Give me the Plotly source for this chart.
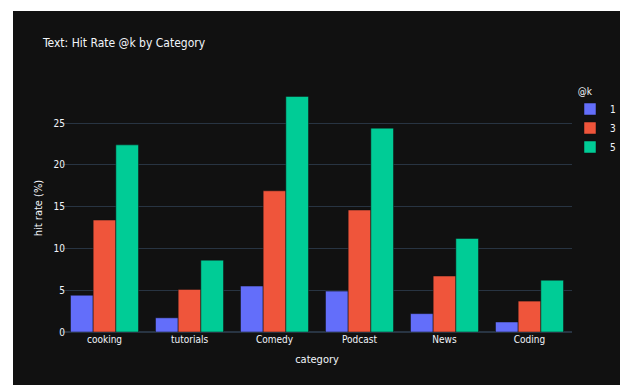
import plotly.graph_objects as go

categories = ["cooking", "tutorials", "Comedy", "Podcast", "News", "Coding"]
k_labels = ["1", "3", "5"]
hit_at_1 = [4.4, 1.7, 5.5, 4.9, 2.2, 1.2]
hit_at_3 = [13.4, 5.1, 16.9, 14.6, 6.7, 3.7]
hit_at_5 = [22.4, 8.6, 28.2, 24.4, 11.2, 6.2]
series = [hit_at_1, hit_at_3, hit_at_5]
colors = ["#636efa", "#EF553B", "#00cc96"]

FONT = "Liberation Sans Narrow, DejaVu Sans Condensed, Open Sans, sans-serif"

fig = go.Figure()
for lab, vals, c in zip(k_labels, series, colors):
    fig.add_trace(go.Bar(x=categories, y=vals, name=lab, marker_color=c))

# page body has an 8px margin; all figure coordinates below are screen - 8
OFF = 8
W, H = 628, 385
L = 62 - OFF
T = 84 - OFF
R = W - (572 - OFF)
B = H - (332 - OFF)
pw, ph = W - L - R, H - T - B

fig.update_layout(
    template="plotly_dark",
    width=W, height=H,
    margin=dict(l=L, r=R, t=T, b=B, autoexpand=False),
    paper_bgcolor="white",
    plot_bgcolor="rgb(17,17,17)",
    font=dict(family=FONT, size=10, color="#f2f5fa"),
    barmode="group",
    title=dict(text="Text: Hit Rate @k by Category", x=(43 - OFF) / W, xanchor="left",
               y=1 - (43 - OFF) / H, yanchor="middle",
               font=dict(family=FONT, size=12)),
    legend=dict(title=dict(text="\u00a0\u00a0@k", font=dict(size=10)), font=dict(size=10),
                bgcolor="rgba(0,0,0,0)",
                x=(570 - OFF - L) / pw, y=1.01, xanchor="left", yanchor="top",
                tracegroupgap=0),
    xaxis=dict(title=dict(text="category", font=dict(size=11), standoff=11),
               tickfont=dict(size=10)),
    yaxis=dict(title=dict(text="hit rate (%)", font=dict(size=11), standoff=8),
               tickfont=dict(size=10), dtick=5, ticklabelstandoff=-4),
    shapes=[dict(type="rect", xref="paper", yref="paper",
                 x0=(13 - OFF - L) / pw, x1=(622 - OFF - L) / pw,
                 y0=-(B + 10) / ph, y1=(T + ph - (11 - OFF)) / ph,
                 fillcolor="rgb(17,17,17)", line=dict(width=0), layer="below")],
)
fig.write_html("out.html")
